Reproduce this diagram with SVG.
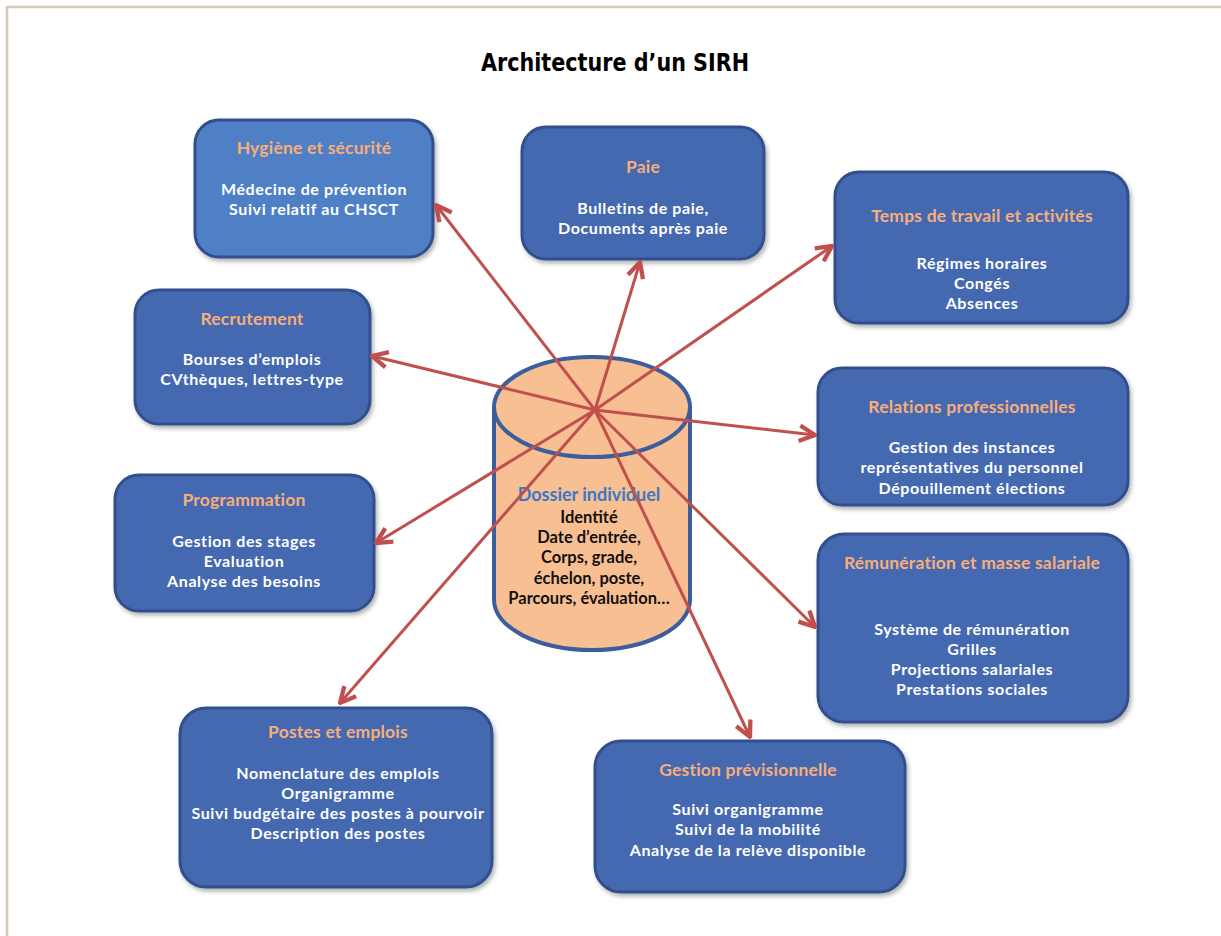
<svg xmlns="http://www.w3.org/2000/svg" width="1221" height="936" viewBox="0 0 1221 936">
<defs>
<style>
.box{fill:#4469b1;stroke:#30508c;stroke-width:3}
.box2{fill:#4f80c6;stroke:#30508c;stroke-width:3}
text{font-family:Lato,"Open Sans","Liberation Sans",sans-serif;font-weight:bold;text-anchor:middle}
.t{fill:#f7ae7a;font-size:17.5px;letter-spacing:0.2px}
.b{fill:#ffffff;font-size:16px;letter-spacing:0.6px}
.c{fill:#111111;font-size:16.5px}
.arrow{stroke:#c0504d;stroke-width:3;fill:none;marker-end:url(#ah)}
</style>
<marker id="ah" viewBox="0 0 10 10" refX="9" refY="5" markerWidth="6.5" markerHeight="6.5" orient="auto" markerUnits="strokeWidth">
<path d="M1,1 L9,5 L1,9" fill="none" stroke="#c0504d" stroke-width="2.2" stroke-linejoin="miter"/>
</marker>
<filter id="sh" x="-10%" y="-10%" width="125%" height="125%">
<feDropShadow dx="2" dy="3" stdDeviation="2" flood-color="#000" flood-opacity="0.3"/>
</filter>
</defs>
<rect width="1221" height="936" fill="#ffffff"/>
<path d="M7,936 V7 H1221" fill="none" stroke="#d6c8b8" stroke-width="2.5"/>
<text x="615" y="71" style="font-family:'DejaVu Sans Condensed','Liberation Sans',sans-serif;font-size:25px;fill:#000" textLength="268" lengthAdjust="spacingAndGlyphs">Architecture d’un SIRH</text>

<g id="n-hygiene"><rect class="box2" x="195" y="120" width="238" height="137" rx="24" filter="url(#sh)"/>
<text class="t" x="314" y="154">Hygiène et sécurité</text>
<text class="b" x="314" y="195">Médecine de prévention</text>
<text class="b" x="314" y="215">Suivi relatif au CHSCT</text></g>

<g id="n-paie"><rect class="box" x="522" y="127" width="242" height="132" rx="24" filter="url(#sh)"/>
<text class="t" x="643" y="173">Paie</text>
<text class="b" x="643" y="214">Bulletins de paie,</text>
<text class="b" x="643" y="234">Documents après paie</text></g>

<g id="n-temps"><rect class="box" x="835" y="172" width="293" height="151" rx="24" filter="url(#sh)"/>
<text class="t" x="982" y="222">Temps de travail et activités</text>
<text class="b" x="982" y="269">Régimes horaires</text>
<text class="b" x="982" y="289">Congés</text>
<text class="b" x="982" y="309">Absences</text></g>

<g id="n-recrutement"><rect class="box" x="135" y="290" width="235" height="134" rx="24" filter="url(#sh)"/>
<text class="t" x="252" y="325">Recrutement</text>
<text class="b" x="252" y="365">Bourses d’emplois</text>
<text class="b" x="252" y="385">CVthèques, lettres-type</text></g>

<g id="n-relations"><rect class="box" x="818" y="368" width="310" height="137" rx="24" filter="url(#sh)"/>
<text class="t" x="972" y="413">Relations professionnelles</text>
<text class="b" x="972" y="453">Gestion des instances</text>
<text class="b" x="972" y="473">représentatives du personnel</text>
<text class="b" x="972" y="494">Dépouillement élections</text></g>

<g id="n-programmation"><rect class="box" x="115" y="475" width="259" height="136" rx="24" filter="url(#sh)"/>
<text class="t" x="244" y="506">Programmation</text>
<text class="b" x="244" y="547">Gestion des stages</text>
<text class="b" x="244" y="567">Evaluation</text>
<text class="b" x="244" y="587">Analyse des besoins</text></g>

<g id="n-remuneration"><rect class="box" x="818" y="534" width="310" height="188" rx="26" filter="url(#sh)"/>
<text class="t" x="972" y="569">Rémunération et masse salariale</text>
<text class="b" x="972" y="635">Système de rémunération</text>
<text class="b" x="972" y="655">Grilles</text>
<text class="b" x="972" y="675">Projections salariales</text>
<text class="b" x="972" y="695">Prestations sociales</text></g>

<g id="n-postes"><rect class="box" x="180" y="708" width="312" height="179" rx="26" filter="url(#sh)"/>
<text class="t" x="338" y="738">Postes et emplois</text>
<text class="b" x="338" y="779">Nomenclature des emplois</text>
<text class="b" x="338" y="799">Organigramme</text>
<text class="b" x="338" y="819">Suivi budgétaire des postes à pourvoir</text>
<text class="b" x="338" y="839">Description des postes</text></g>

<g id="n-gestion"><rect class="box" x="595" y="741" width="310" height="151" rx="26" filter="url(#sh)"/>
<text class="t" x="748" y="776">Gestion prévisionnelle</text>
<text class="b" x="748" y="815">Suivi organigramme</text>
<text class="b" x="748" y="835">Suivi de la mobilité</text>
<text class="b" x="748" y="856">Analyse de la relève disponible</text></g>

<g id="n-dossier">
<path d="M494,407 V600 A98,50 0 0 0 690,600 V407" fill="#f8bf93" stroke="#3d5e9c" stroke-width="4"/>
<ellipse cx="592" cy="407" rx="98" ry="50" fill="#f8bf93" stroke="#3d5e9c" stroke-width="4"/>
<text x="589" y="501" style="fill:#3b78c6;font-size:18px">Dossier individuel</text>
<text class="c" x="589" y="523">Identité</text>
<text class="c" x="589" y="543">Date d’entrée,</text>
<text class="c" x="589" y="563">Corps, grade,</text>
<text class="c" x="589" y="584">échelon, poste,</text>
<text class="c" x="589" y="604">Parcours, évaluation…</text>
</g>

<g id="connectors">
<line class="arrow" x1="595" y1="410" x2="436" y2="205"/>
<line class="arrow" x1="595" y1="410" x2="640" y2="262"/>
<line class="arrow" x1="595" y1="410" x2="832" y2="246"/>
<line class="arrow" x1="595" y1="410" x2="372" y2="356"/>
<line class="arrow" x1="595" y1="410" x2="815" y2="435"/>
<line class="arrow" x1="595" y1="410" x2="376" y2="543"/>
<line class="arrow" x1="595" y1="410" x2="815" y2="627"/>
<line class="arrow" x1="595" y1="410" x2="340" y2="703"/>
<line class="arrow" x1="595" y1="410" x2="750" y2="737"/>
</g>
</svg>
